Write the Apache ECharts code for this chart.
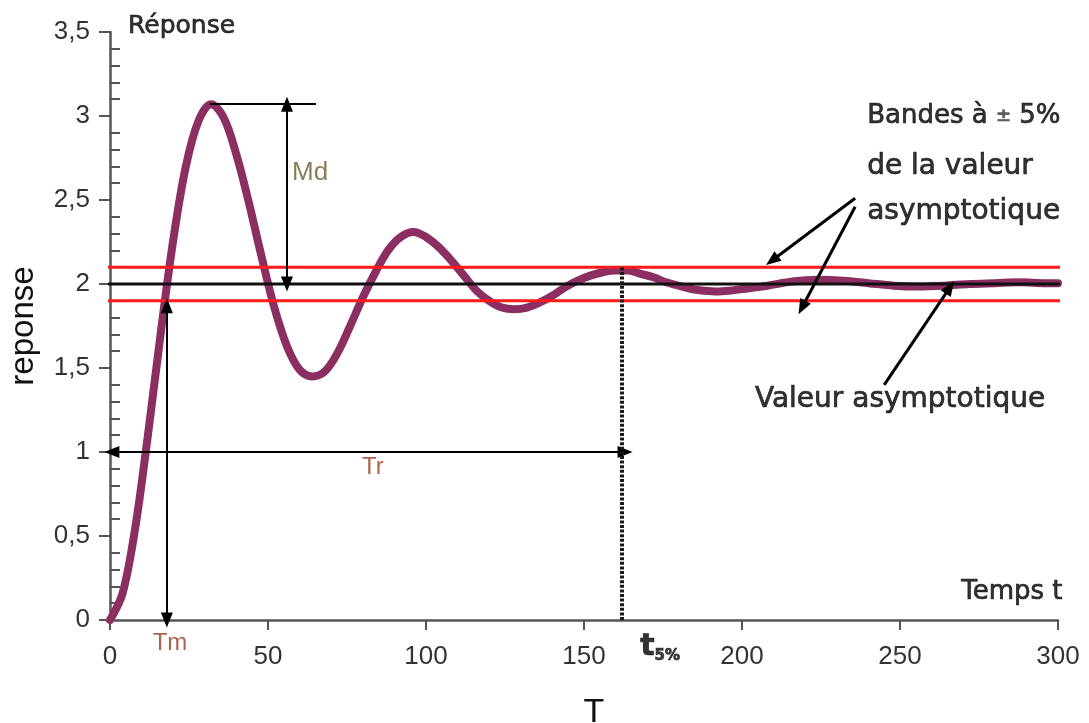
<!DOCTYPE html>
<html>
<head>
<meta charset="utf-8">
<script src="https://cdn.jsdelivr.net/npm/echarts@6/dist/echarts.min.js"></script>
<style>
  html, body { margin: 0; padding: 0; background: #ffffff; }
  #chart { width: 1089px; height: 723px; }
</style>
</head>
<body>
<div id="chart"></div>
<script>
// Step response of a damped second-order system, sampled values
const timeValues = [0, 4, 8, 12, 16, 20, 24, 28, 32, 36, 40, 44, 48, 52, 56, 60, 64, 68, 72, 76, 80, 84, 88, 92, 96, 100,
  104, 108, 112, 116, 120, 124, 128, 132, 136, 140, 144, 148, 152, 156, 160, 164, 168, 172, 176, 180, 184, 188, 192, 196,
  200, 208, 216, 224, 232, 240, 248, 256, 264, 272, 280, 288, 296, 300];
const responseValues = [0, 0.16, 0.55, 1.10, 1.70, 2.26, 2.70, 2.97, 3.07, 2.99, 2.77, 2.48, 2.16, 1.86, 1.63, 1.49, 1.45, 1.48,
  1.59, 1.75, 1.92, 2.07, 2.20, 2.28, 2.31, 2.28, 2.22, 2.14, 2.05, 1.96, 1.90, 1.86, 1.85, 1.86, 1.89, 1.93, 1.98, 2.02,
  2.05, 2.07, 2.08, 2.08, 2.06, 2.04, 2.01, 1.99, 1.97, 1.96, 1.955, 1.96, 1.97, 1.99, 2.015, 2.025, 2.02, 2.005, 1.99,
  1.985, 1.99, 2.00, 2.005, 2.01, 2.005, 2.005];

// Asymptotic value and the +/-5% band around it
const asymptoteValue = 2;
const bandUpperValue = 2.1;
const bandLowerValue = 1.9;
const asymptoteSpan = [-2.2, 307];
const bandUpperSpan = [-2.2, 308.5];
const bandLowerSpan = [-1.3, 308.5];

// Characteristic times and overshoot
const peakTime = 31.6;
const peakValue = 3.07;
const riseTime = 18;
const riseLevel = 1.87;
const settlingTime = 162;
const settlingLevel = 2.1;

// Axis ranges
const xMin = 0, xMax = 300, xStep = 50;
const yMin = 0, yMax = 3.5, yStep = 0.5;

// Annotation arrows [from, to, heads]
const annotationArrows = [
  { from: [56, peakValue], to: [56, asymptoteValue], heads: 'both', width: 2 },   // Md
  { from: [riseTime, 0], to: [riseTime, riseLevel], heads: 'both', width: 2 },   // Tm
  { from: [0.6, 1], to: [163, 1], heads: 'both', width: 2 },                      // Tr
  { from: [235.8, 2.51], to: [209.5, 2.14], heads: 'end', width: 3 },             // upper band pointer
  { from: [235.8, 2.46], to: [219, 1.86], heads: 'end', width: 3 },               // lower band pointer
  { from: [245, 1.40], to: [265.8, 1.98], heads: 'end', width: 3 }                // asymptote pointer
];
const overshootGuide = [[peakTime, peakValue], [65.2, peakValue]];
const settlingGuide = [[settlingTime, 0], [settlingTime, settlingLevel]];

// Text notes placed in data coordinates
const handFont = "'Comic Sans MS', 'DejaVu Sans', sans-serif";
const plainFont = "'Liberation Sans', Arial, sans-serif";
const notes = [
  { at: [5.7, 3.53], text: 'Réponse', align: 'left', kind: 'hand', size: 25 },
  { at: [285.4, 0.165], text: 'Temps t', align: 'center', kind: 'hand', size: 26 },
  { at: [239.6, 3.0], text: '{a|Bandes à }{pm|±}{a| 5%}', align: 'left', kind: 'hand', size: 26 },
  { at: [239.6, 2.70], text: 'de la valeur', align: 'left', kind: 'hand', size: 28 },
  { at: [239.6, 2.43], text: 'asymptotique', align: 'left', kind: 'hand', size: 28 },
  { at: [204.1, 1.31], text: 'Valeur asymptotique', align: 'left', kind: 'hand', size: 28 },
  { at: [57.6, 2.66], text: 'Md', align: 'left', kind: 'mark', size: 26, color: '#6e5a2c' },
  { at: [19, -0.14], text: 'Tm', align: 'center', kind: 'mark', size: 24, color: '#963a1e' },
  { at: [83.2, 0.91], text: 'Tr', align: 'center', kind: 'mark', size: 24, color: '#963a1e' },
  { at: [167.8, -0.16], text: '{t|t}{s|5%}', align: 'left', kind: 'hand', size: 26 }
];

const chart = echarts.init(document.getElementById('chart'), null, { renderer: 'canvas' });

function toSeriesData(xs, ys) {
  return xs.map((x, i) => [x, ys[i]]);
}

function arrowMarkData() {
  const lines = annotationArrows.map(a => [
    { coord: a.from, symbol: a.heads === 'both' ? 'triangle' : 'none', lineStyle: { width: a.width } },
    { coord: a.to, symbol: 'triangle' }
  ]);
  lines.push([
    { coord: overshootGuide[0], symbol: 'none', lineStyle: { width: 2 } },
    { coord: overshootGuide[1], symbol: 'none' }
  ]);
  lines.push([
    { coord: settlingGuide[0], symbol: 'none', lineStyle: { type: [3, 1.6], width: 4, color: '#1a1a1a' } },
    { coord: settlingGuide[1], symbol: 'none' }
  ]);
  return lines;
}

const inkStroke = { textBorderColor: '#000', textBorderWidth: 0.7 };

const noteData = notes.map(n => {
  const ink = n.kind === 'hand' ? inkStroke : {};
  return {
    value: n.at,
    label: Object.assign({
      show: true,
      position: [0, 0],
      align: n.align,
      verticalAlign: 'middle',
      formatter: n.text,
      fontFamily: n.kind === 'hand' ? handFont : plainFont,
      fontSize: n.size,
      color: n.color || '#000',
      rich: {
        a: Object.assign({ fontFamily: handFont, fontSize: n.size, color: '#000' }, inkStroke),
        pm: { fontFamily: handFont, fontSize: 18, color: '#444' },
        t: Object.assign({ fontFamily: handFont, fontSize: 30, fontWeight: 'bold', color: '#000' }, inkStroke),
        s: { fontFamily: handFont, fontSize: 15, fontWeight: 'bold', color: '#111', padding: [18, 0, 0, 0] }
      }
    }, ink)
  };
});

const option = {
  animation: false,
  backgroundColor: '#ffffff',
  grid: { left: 110, right: 31, top: 32, bottom: 103, containLabel: false, outerBoundsMode: 'none' },
  xAxis: {
    type: 'value',
    min: xMin, max: xMax, interval: xStep,
    name: 'T',
    nameLocation: 'middle',
    nameGap: 76,
    nameTextStyle: { fontFamily: plainFont, fontSize: 34, color: '#111', padding: [0, 0, 0, 20] },
    axisLine: { show: true, lineStyle: { color: '#555', width: 2.5 } },
    axisTick: { show: true, inside: false, length: 10, lineStyle: { color: '#555', width: 2 } },
    axisLabel: { margin: 24, fontFamily: plainFont, fontSize: 26, color: '#333' },
    splitLine: { show: false }
  },
  yAxis: {
    type: 'value',
    min: yMin, max: yMax, interval: yStep,
    name: 'reponse',
    nameLocation: 'middle',
    nameRotate: 90,
    nameGap: 70,
    nameTextStyle: { fontFamily: plainFont, fontSize: 33, color: '#111' },
    axisLine: { show: true, lineStyle: { color: '#555', width: 2.5 } },
    axisTick: { show: true, inside: false, length: 11, lineStyle: { color: '#555', width: 2 } },
    minorTick: { show: true, splitNumber: 5, length: -10, lineStyle: { color: '#555', width: 2 } },
    axisLabel: {
      margin: 20, fontFamily: plainFont, fontSize: 26, color: '#333',
      formatter: v => String(v).replace('.', ',')
    },
    splitLine: { show: false },
    minorSplitLine: { show: false }
  },
  series: [
    {
      name: 'réponse',
      type: 'line',
      data: toSeriesData(timeValues, responseValues),
      smooth: 0.35,
      showSymbol: false,
      lineStyle: { color: '#8b2e62', width: 8, cap: 'round', join: 'round' },
      z: 2
    },
    {
      name: 'bande haute',
      type: 'line',
      data: [[bandUpperSpan[0], bandUpperValue], [bandUpperSpan[1], bandUpperValue]],
      showSymbol: false,
      clip: false,
      lineStyle: { color: '#ff1a1a', width: 3 },
      z: 3
    },
    {
      name: 'bande basse',
      type: 'line',
      data: [[bandLowerSpan[0], bandLowerValue], [bandLowerSpan[1], bandLowerValue]],
      showSymbol: false,
      clip: false,
      lineStyle: { color: '#ff1a1a', width: 3 },
      z: 3
    },
    {
      name: 'valeur asymptotique',
      type: 'line',
      data: [[asymptoteSpan[0], asymptoteValue], [asymptoteSpan[1], asymptoteValue]],
      showSymbol: false,
      clip: false,
      lineStyle: { color: '#111', width: 3 },
      z: 4,
      markLine: {
        silent: true,
        symbolSize: [12, 15],
        label: { show: false },
        lineStyle: { color: '#000', width: 2, type: 'solid' },
        emphasis: { disabled: true },
        data: arrowMarkData()
      }
    },
    {
      name: 'notes',
      type: 'scatter',
      data: noteData,
      symbolSize: 0,
      clip: false,
      silent: true,
      z: 6
    }
  ]
};

chart.setOption(option);
</script>
</body>
</html>
